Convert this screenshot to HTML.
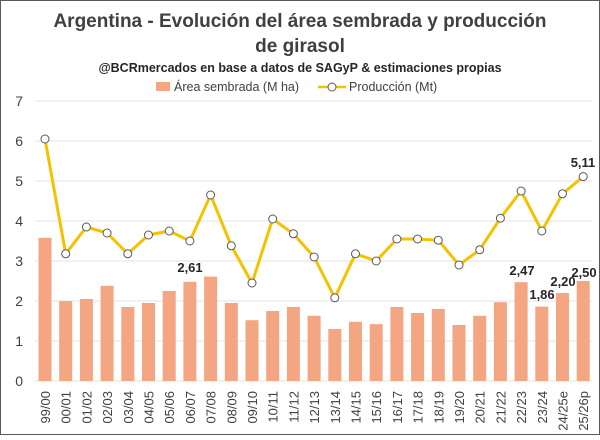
<!DOCTYPE html>
<html><head><meta charset="utf-8"><style>
body{margin:0;background:#fff;}
svg text{font-family:"Liberation Sans",sans-serif;}
</style></head><body>
<svg width="600" height="435" xmlns="http://www.w3.org/2000/svg">
<rect x="0.5" y="0.5" width="599" height="434" fill="#fff" stroke="#595959"/>
<text x="300" y="27" text-anchor="middle" font-size="19" font-weight="bold" fill="#404040">Argentina - Evolución del área sembrada y producción</text>
<text x="300" y="52" text-anchor="middle" font-size="19" font-weight="bold" fill="#404040">de girasol</text>
<text x="300" y="72" text-anchor="middle" font-size="12.5" font-weight="bold" fill="#262626">@BCRmercados  en base a datos de SAGyP &amp; estimaciones propias</text>
<rect x="156" y="82" width="14" height="9" fill="#f4a582"/>
<text x="174" y="91" font-size="12.5" fill="#404040">Área sembrada (M ha)</text>
<line x1="318" y1="87" x2="346" y2="87" stroke="#f5c200" stroke-width="2.5"/>
<circle cx="332" cy="87" r="4" fill="#fff" stroke="#595959"/>
<text x="349" y="91" font-size="12.5" fill="#404040">Producción (Mt)</text>
<g id="grid" stroke="#e3e3e3" stroke-width="1"></g>
<g id="yl" font-size="14" fill="#404040" text-anchor="end"></g>
<g id="bars" fill="#f4a582"></g>
<polyline id="line" fill="none" stroke="#f5c200" stroke-width="3" stroke-linejoin="round"/>
<g id="pts" fill="#fff" stroke="#595959" stroke-width="1"></g>
<g id="xl" font-size="13" fill="#404040"></g>
<g font-size="13" font-weight="bold" fill="#262626" text-anchor="middle">
<text x="190" y="272">2,61</text>
<text x="522" y="275">2,47</text>
<text x="542" y="299">1,86</text>
<text x="563" y="286">2,20</text>
<text x="584" y="277">2,50</text>
<text x="583" y="167">5,11</text>
</g>
</svg>
<script>
var ns="http://www.w3.org/2000/svg";
function el(p,t,a,txt){var e=document.createElementNS(ns,t);for(var k in a)e.setAttribute(k,a[k]);if(txt!=null)e.textContent=txt;document.getElementById(p).appendChild(e);return e;}
var Y0=381,U=40;
for(var i=0;i<=7;i++){var y=Y0-i*U;el("grid","line",{x1:35,x2:592,y1:y,y2:y});el("yl","text",{x:23,y:y+5},i);}
var cats=["99/00","00/01","01/02","02/03","03/04","04/05","05/06","06/07","07/08","08/09","09/10","10/11","11/12","12/13","13/14","14/15","15/16","16/17","17/18","18/19","19/20","20/21","21/22","22/23","23/24","24/25e","25/26p"];
var area=[3.58,2.0,2.05,2.38,1.85,1.95,2.25,2.48,2.61,1.95,1.52,1.75,1.85,1.63,1.3,1.48,1.42,1.85,1.7,1.8,1.4,1.63,1.97,2.47,1.86,2.2,2.5];
var prod=[6.05,3.18,3.85,3.7,3.18,3.65,3.75,3.5,4.65,3.38,2.45,4.05,3.68,3.1,2.08,3.18,3.0,3.55,3.55,3.52,2.9,3.28,4.07,4.75,3.75,4.68,5.11];
var pts=[];
for(var i=0;i<27;i++){var cx=45+i*20.7;
el("bars","rect",{x:cx-6.5,y:Y0-area[i]*U,width:13,height:area[i]*U});
var py=Y0-prod[i]*U;pts.push(cx+","+py);
el("xl","text",{transform:"translate("+(cx+5)+",391) rotate(-90)","text-anchor":"end"},cats[i]);
}
document.getElementById("line").setAttribute("points",pts.join(" "));
for(var i=0;i<27;i++){var cx=45+i*20.7;el("pts","circle",{cx:cx,cy:Y0-prod[i]*U,r:4});}
</script>
</body></html>
